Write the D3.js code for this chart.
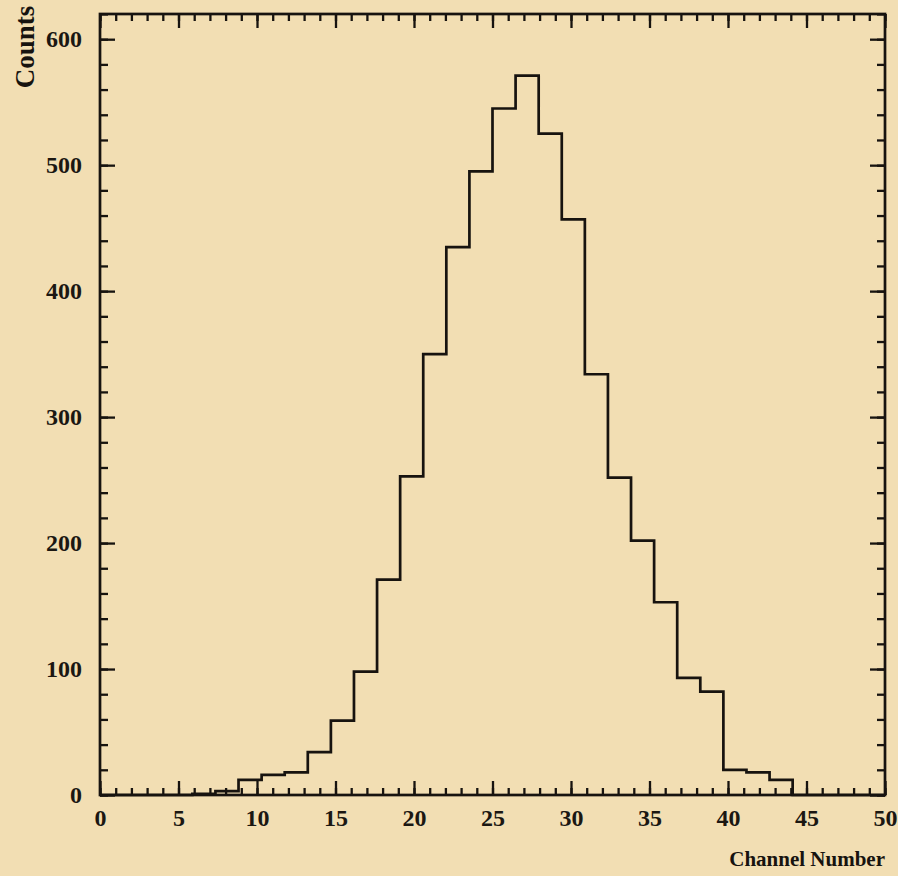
<!DOCTYPE html>
<html>
<head>
<meta charset="utf-8">
<script src="https://cdn.jsdelivr.net/npm/d3@7"></script>
<style>
  html, body { margin: 0; padding: 0; background: #f2deb3; }
  svg { display: block; }
  .tick text { font-family: "Liberation Serif", "DejaVu Serif", serif; font-weight: bold; fill: #1b1712; }
</style>
</head>
<body>
<div id="chart"></div>
<script>
// histogram: 34 equal bins spanning channel 0..50
const channelRange = [0, 50];
const counts = [0, 0, 0, 0, 1, 3, 12, 16, 18, 34, 59, 98, 171, 253, 350, 435, 495,
  545, 571, 525, 457, 334, 252, 202, 153, 93, 82, 20, 18, 12, 0, 0, 0, 0];
const xTicks = [0, 5, 10, 15, 20, 25, 30, 35, 40, 45, 50];
const yTicks = [0, 100, 200, 300, 400, 500, 600];

const W = 898, H = 876;
const margin = { top: 14, right: 13, bottom: 81, left: 100 };
const ink = "#17130f";

const svg = d3.select("#chart").append("svg")
  .attr("width", W)
  .attr("height", H);

const x = d3.scaleLinear().domain(channelRange).range([margin.left, W - margin.right]);
const y = d3.scaleLinear().domain([0, 620]).range([H - margin.bottom, margin.top]);

const binW = (channelRange[1] - channelRange[0]) / counts.length;
const pts = counts.map((c, i) => [channelRange[0] + i * binW, c]);
pts.push([channelRange[1], counts[counts.length - 1]]);

// minor ticks first (no labels)
const minorX = d3.range(0, 51, 1);
const minorY = d3.range(0, 621, 20);
const noLabel = () => "";

svg.append("g").attr("transform", `translate(0,${y(0)})`)
  .call(d3.axisBottom(x).tickValues(minorX).tickSizeInner(-7).tickSizeOuter(0).tickFormat(noLabel));
svg.append("g").attr("transform", `translate(0,${margin.top})`)
  .call(d3.axisTop(x).tickValues(minorX).tickSizeInner(-7).tickSizeOuter(0).tickFormat(noLabel));
svg.append("g").attr("transform", `translate(${margin.left},0)`)
  .call(d3.axisLeft(y).tickValues(minorY).tickSizeInner(-8).tickSizeOuter(0).tickFormat(noLabel));
svg.append("g").attr("transform", `translate(${W - margin.right},0)`)
  .call(d3.axisRight(y).tickValues(minorY).tickSizeInner(-8).tickSizeOuter(0).tickFormat(noLabel));

// major ticks
svg.append("g").attr("class", "xaxis").attr("transform", `translate(0,${y(0)})`)
  .call(d3.axisBottom(x).tickValues(xTicks).tickSizeInner(-14).tickSizeOuter(0).tickPadding(14));
svg.append("g").attr("transform", `translate(0,${margin.top})`)
  .call(d3.axisTop(x).tickValues(xTicks).tickSizeInner(-14).tickSizeOuter(0).tickFormat(noLabel));
svg.append("g").attr("class", "yaxis").attr("transform", `translate(${margin.left},0)`)
  .call(d3.axisLeft(y).tickValues(yTicks).tickSizeInner(-15).tickSizeOuter(0).tickPadding(18));
svg.append("g").attr("transform", `translate(${W - margin.right},0)`)
  .call(d3.axisRight(y).tickValues(yTicks).tickSizeInner(-15).tickSizeOuter(0).tickFormat(noLabel));

svg.selectAll(".domain").remove();
svg.selectAll(".tick line").attr("stroke", ink).attr("stroke-width", 2.3);
svg.selectAll(".tick text").style("font-size", "24px");

// frame
svg.append("rect")
  .attr("x", margin.left)
  .attr("y", margin.top)
  .attr("width", W - margin.left - margin.right)
  .attr("height", y(0) - margin.top)
  .attr("fill", "none")
  .attr("stroke", ink)
  .attr("stroke-width", 2.7);

// histogram outline
const line = d3.line()
  .x(d => x(d[0]))
  .y(d => y(d[1]))
  .curve(d3.curveStepAfter);

svg.append("path")
  .datum(pts)
  .attr("d", line)
  .attr("fill", "none")
  .attr("stroke", ink)
  .attr("stroke-width", 2.7);

// axis titles
svg.append("text")
  .text("Counts")
  .attr("transform", `translate(34,47) rotate(-90)`)
  .attr("text-anchor", "middle")
  .style("font-family", "Liberation Serif, serif")
  .style("font-weight", "bold")
  .style("font-size", "27px")
  .style("fill", ink);

svg.append("text")
  .text("Channel Number")
  .attr("x", W - margin.right)
  .attr("y", 866)
  .attr("text-anchor", "end")
  .style("font-family", "Liberation Serif, serif")
  .style("font-weight", "bold")
  .style("font-size", "21px")
  .style("fill", ink);
</script>
</body>
</html>
